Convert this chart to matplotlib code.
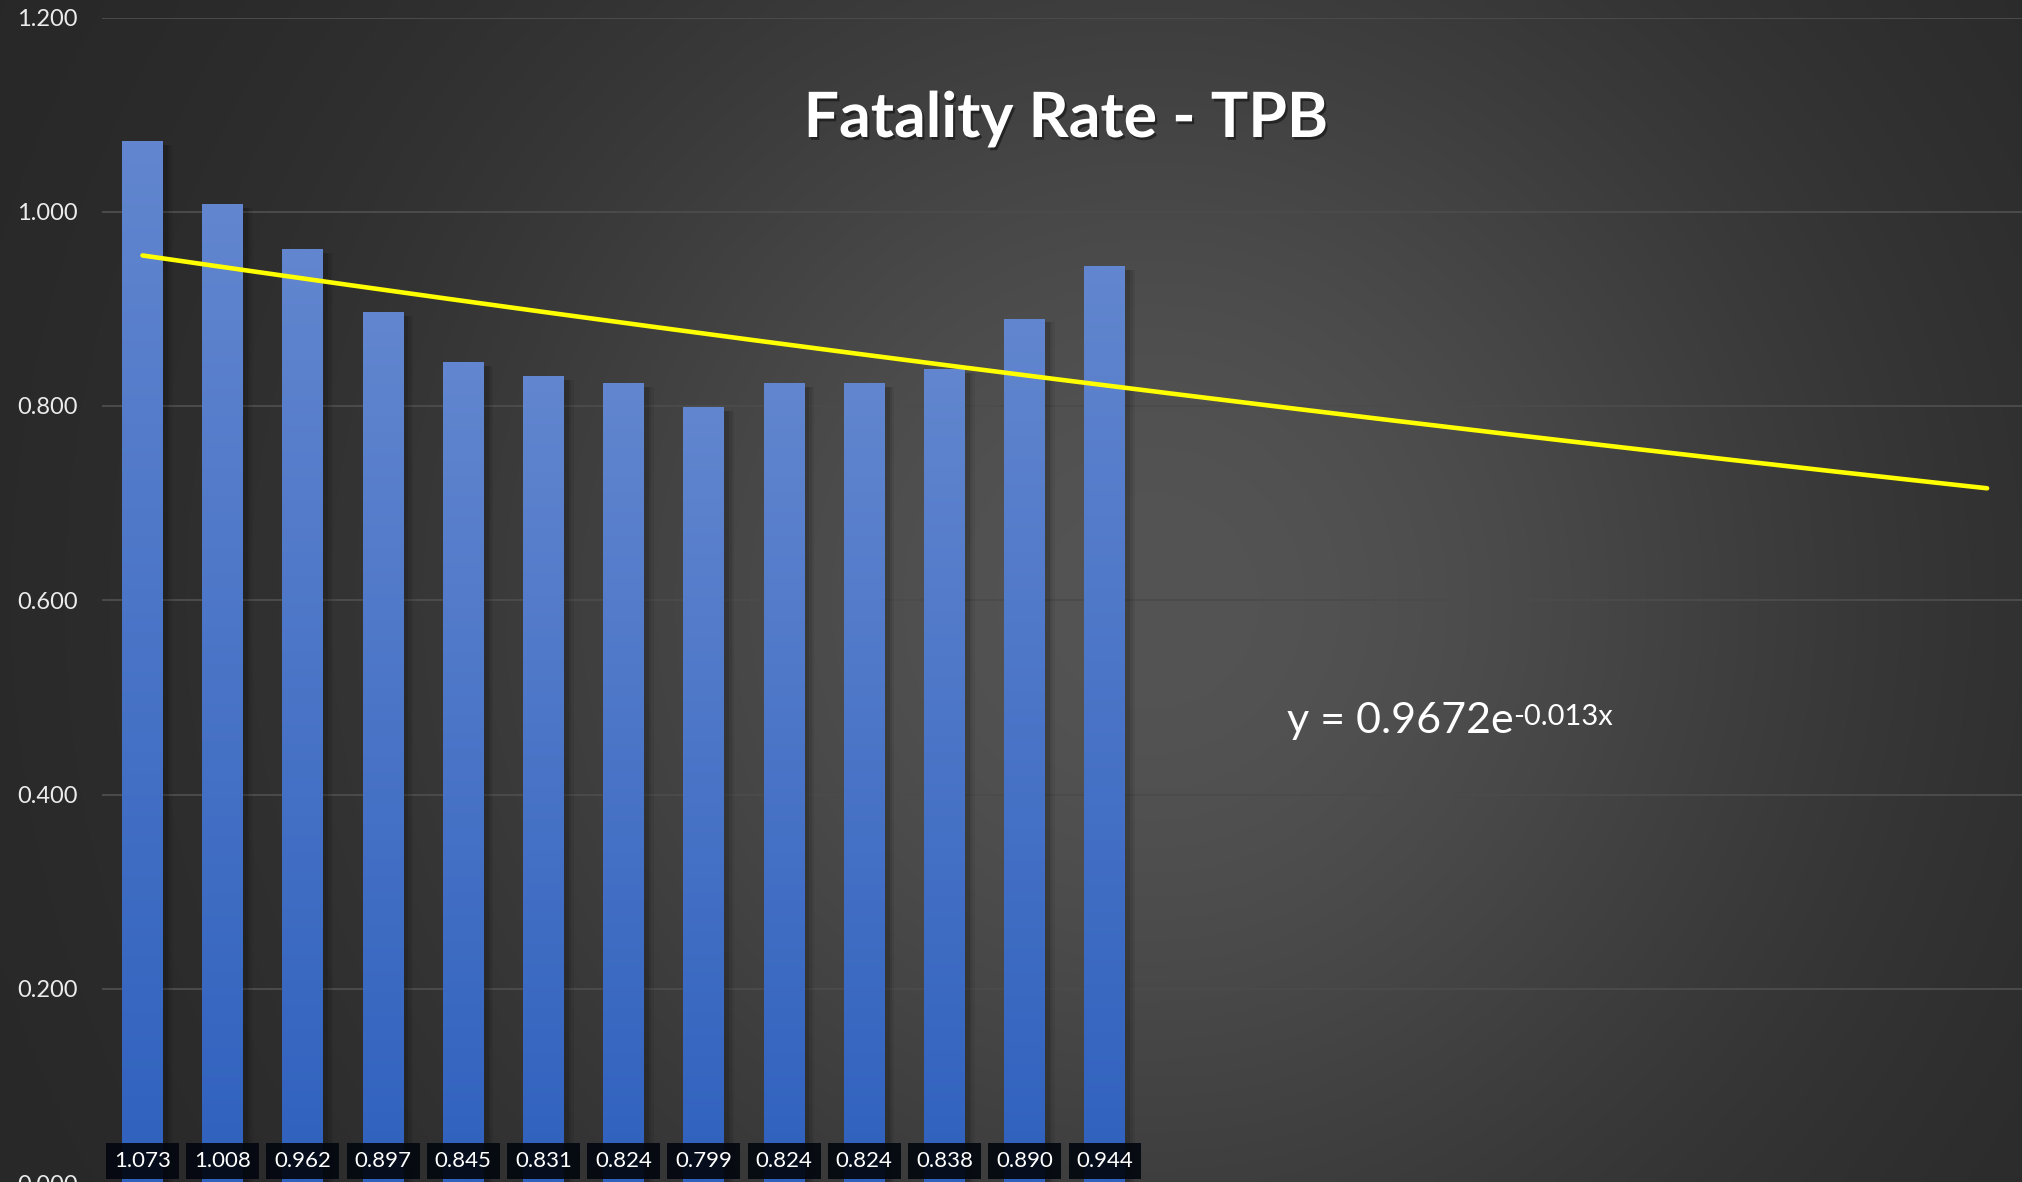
import numpy as np
import matplotlib
matplotlib.use("Agg")
import matplotlib.pyplot as plt
from matplotlib.patches import Rectangle
import matplotlib.patheffects as pe

# ---- data ----
periods = list(range(1, 14))
rates = [1.073, 1.008, 0.962, 0.897, 0.845, 0.831, 0.824, 0.799, 0.824, 0.824, 0.838, 0.890, 0.944]
forecast_periods = 11
y_ticks = [0.0, 0.2, 0.4, 0.6, 0.8, 1.0, 1.2]
title = "Fatality Rate - TPB"
equation_main = "y = 0.9672e"
equation_sup = "-0.013x"

plt.rcParams['font.family'] = ['Lato', 'DejaVu Sans']

W, H = 2022, 1182
fig = plt.figure(figsize=(W / 100, H / 100), dpi=100)

# ---- radial gradient background ----
bg = fig.add_axes([0, 0, 1, 1], zorder=-10)
yy, xx = np.mgrid[0:H:4, 0:W:4]
r = np.sqrt((xx - 1150.0) ** 2 + (yy - 600.0) ** 2)
v = (38 + 46 * np.exp(-(r / 730.0) ** 2)) / 255.0
img = np.dstack([v, v, v])
bg.imshow(img, extent=[0, W, H, 0], aspect='auto', interpolation='bilinear')
bg.set_xlim(0, W)
bg.set_ylim(H, 0)
bg.axis('off')

# ---- main axes ----
left_px, right_px = 102.4, 102.4 + 24 * 80.2
top_px, bot_px = 17.5, 1183.0
ax = fig.add_axes([left_px / W, (H - bot_px) / H, (right_px - left_px) / W, (bot_px - top_px) / H])
ax.set_facecolor('none')
n_total = len(periods) + forecast_periods
ax.set_xlim(0.5, n_total + 0.5)
ax.set_ylim(0, 1.2)
for s in ax.spines.values():
    s.set_visible(False)
ax.set_xticks([])
ax.set_yticks(y_ticks)
ax.set_yticklabels([f"{t:.3f}" for t in y_ticks])
ax.tick_params(axis='y', length=0, pad=18, labelsize=17, labelcolor='#ececec')
ax.yaxis.grid(True, color='#4b4b4b', lw=1.4)
ax.set_axisbelow(True)

# ---- bars with gradient and soft shadow ----
bw = 0.51
grad = np.linspace(0, 1, 256).reshape(-1, 1)
top_c = np.array([0x62, 0x86, 0xcf]) / 255.0
bot_c = np.array([0x2f, 0x61, 0xbe]) / 255.0
gimg = (top_c[None, None, :] * (1 - grad[:, :, None]) + bot_c[None, None, :] * grad[:, :, None])
for x, val in zip(periods, rates):
    for k, a in [(0.10, 0.06), (0.07, 0.08), (0.04, 0.10)]:
        ax.add_patch(Rectangle((x - bw / 2 + 0.02, 0), bw + k, val - 0.004, facecolor='black',
                               alpha=a, edgecolor='none', zorder=1))
    rect = Rectangle((x - bw / 2, 0), bw, val, facecolor='none', edgecolor='none', zorder=2)
    ax.add_patch(rect)
    im = ax.imshow(gimg, extent=[x - bw / 2, x + bw / 2, 0, val], aspect='auto', zorder=2,
                   interpolation='bilinear')
    im.set_clip_path(rect)

# ---- exponential trendline (least squares on log values) ----
b, a = np.polyfit(periods, np.log(rates), 1)
tx = np.linspace(periods[0], n_total, 200)
ty = np.exp(a) * np.exp(b * tx)
ax.plot(tx, ty, color='#ffff00', lw=3.3, solid_capstyle='round', zorder=4)

# ---- data labels ----
for x, val in zip(periods, rates):
    ax.text(x, 0.0225, f"{val:.3f}", ha='center', va='center', fontsize=16, color='white', zorder=6,
            bbox=dict(boxstyle='square,pad=0.36', facecolor='#03070f', edgecolor='none', alpha=0.92))

# ---- equation ----
ex = (1287 - left_px) / 80.2 + 0.5
ey = (bot_px - 733) / ((bot_px - top_px) / 1.2)
t1 = ax.text(ex, ey, equation_main, fontsize=31, color='white', ha='left', va='baseline', zorder=6)
ax.annotate(equation_sup, xy=(1.0, 0.95), xycoords=t1, ha='left', va='top', fontsize=21,
            color='white', zorder=6)

# ---- title ----
fig.text(1066 / W, (H - 137) / H, title, ha='center', va='baseline', fontsize=45, fontweight='bold',
         color='white',
         path_effects=[pe.withSimplePatchShadow(offset=(1.5, -2), shadow_rgbFace='black', alpha=0.45)])

fig.savefig('out.png', dpi=100)
